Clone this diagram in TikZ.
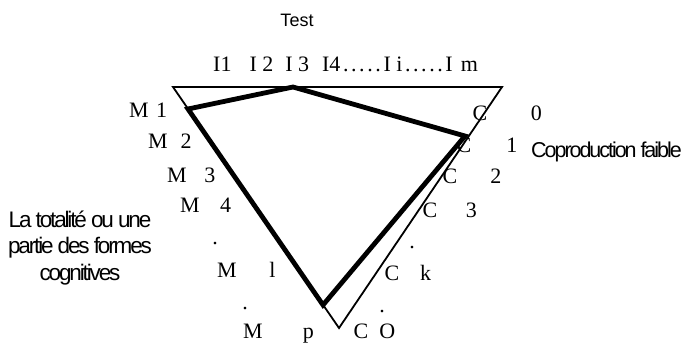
\documentclass[tikz,border=0pt]{standalone}
\usepackage{fontspec}
\setmainfont{Liberation Serif}
\newfontfamily\tightsans[LetterSpace=-9.5]{Liberation Sans}
\newfontfamily\plainsans{Liberation Sans}
\newcommand\dotrun{\hbox to 43pt{\hfil.\hfil.\hfil.\hfil.\hfil.\hfil}}
\tikzset{
  every picture/.style={x=1pt, y=-1pt},
  lbl/.style={font=\fontsize{22}{26}\selectfont, inner sep=0pt, anchor=base west},
  dotmark/.style={font=\fontsize{22}{26}\selectfont, inner sep=0pt, anchor=base},
  note/.style={font=\tightsans\fontsize{21.5}{26.5}\selectfont, inner sep=0pt, align=center},
  title/.style={font=\plainsans\fontsize{18}{22}\selectfont, inner sep=0pt, anchor=base},
  edge/.style={line width=1.8pt, line join=miter},
  route/.style={line width=4.8pt, line join=miter},
}
\begin{document}
\begin{tikzpicture}
  \useasboundingbox (0,0) rectangle (684,345);
  \coordinate (t1) at (173,87);
  \coordinate (t2) at (502,87);
  \coordinate (t3) at (339,328);
  \coordinate (m1) at (188,109);
  \coordinate (i3) at (293,87);
  \coordinate (c1) at (465,136);
  \coordinate (mp) at (323,305);
  \draw[edge] (t1) -- (t2) -- (t3) -- cycle;
  \draw[route] (m1) -- (i3) -- (c1) -- (mp) -- cycle;
  \node[title] (test) at (297,27) {Test};
  \node[lbl] (items) at (213,71) {I1\hspace*{18pt}I 2\hspace*{12pt}I 3\hspace*{13pt}I4\dotrun I i\dotrun I\hspace*{8pt}m};
  \foreach \n/\x/\y/\g/\s in {1/129/117/7.5/1, 2/148/148/13/2, 3/167/182/17.5/3, 4/180/212/20.5/4, l/217/277/32.5/l, p/243/338/40/p}
    \node[lbl] (M\n) at (\x,\y) {M\hspace*{\g pt}\s};
  \foreach \n/\x/\y/\g/\s in {0/472.5/120/43.5/0, 1/456.5/152/35/1, 2/442.5/183/33/2, 3/422.5/217/28.4/3, k/384.5/280/20.7/k, O/353.5/338/11/O}
    \node[lbl] (C\n) at (\x,\y) {C\hspace*{\g pt}\s};
  \foreach \n/\x/\y in {a/215/244.5, b/245/309.5, c/412/248.5, d/382/312.5}
    \node[dotmark] (dot\n) at (\x,\y) {.};
  \node[note, anchor=base west] (cop) at (531,157) {Coproduction faible};
  \node[note, anchor=base, font=\tightsans\fontsize{22.5}{26.5}\selectfont] (forms) at (80,280) {La totalité ou une\\partie des formes\\cognitives};
\end{tikzpicture}
\end{document}
